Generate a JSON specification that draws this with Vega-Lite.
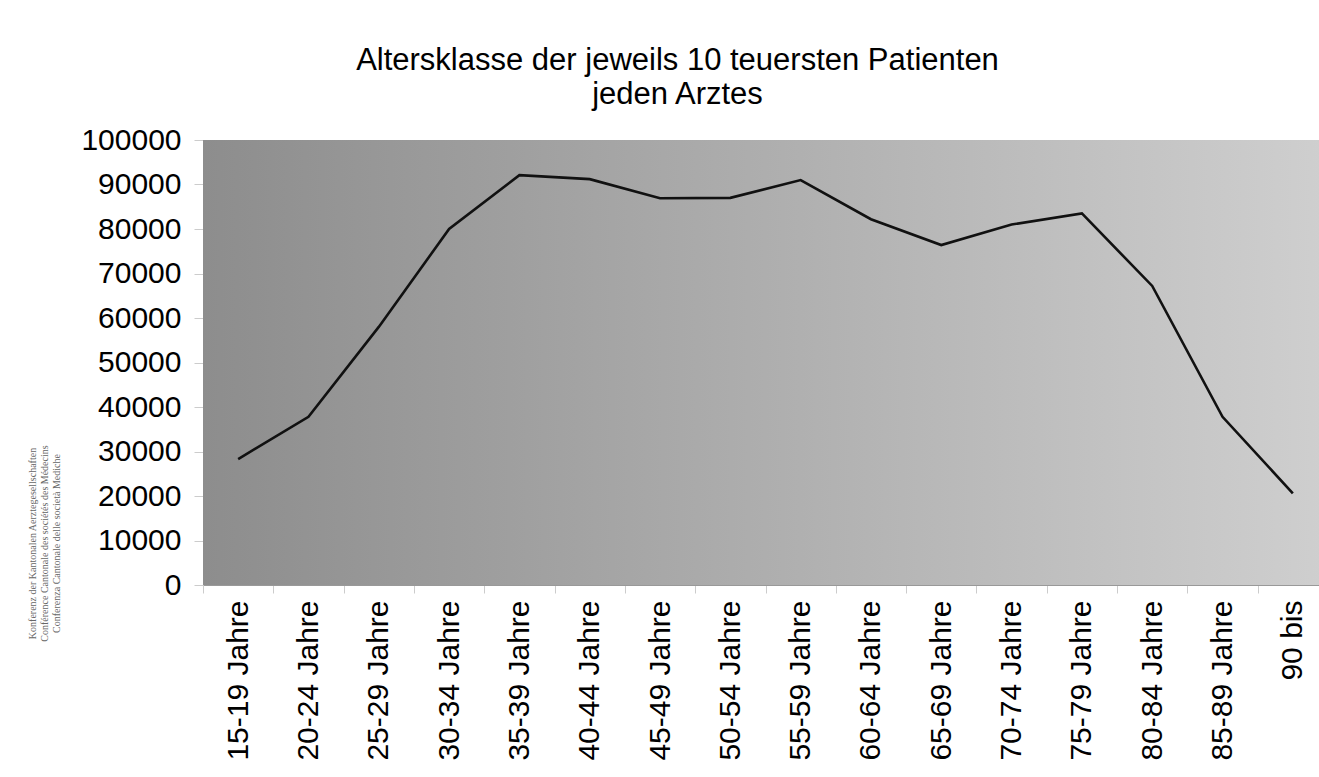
{
  "$schema": "https://vega.github.io/schema/vega-lite/v6.json",
  "autosize": {"type": "none"},
  "padding": {"left": 203, "top": 140, "right": 0, "bottom": 192},
  "width": 1125,
  "height": 445,
  "background": "white",
  "config": {
    "view": {"stroke": null},
    "font": "Liberation Sans"
  },
  "title": {
    "text": ["Altersklasse der jeweils 10 teuersten Patienten", "jeden Arztes"],
    "font": "Liberation Sans",
    "fontSize": 31,
    "fontWeight": "normal",
    "color": "#000000",
    "anchor": "middle",
    "frame": "group",
    "dx": -88,
    "offset": 14,
    "lineHeight": 34
  },
  "data": {
    "values": [
      {"Alter": "15-19 Jahre", "Wert": 28300},
      {"Alter": "20-24 Jahre", "Wert": 37800},
      {"Alter": "25-29 Jahre", "Wert": 58000},
      {"Alter": "30-34 Jahre", "Wert": 80000},
      {"Alter": "35-39 Jahre", "Wert": 92100},
      {"Alter": "40-44 Jahre", "Wert": 91200},
      {"Alter": "45-49 Jahre", "Wert": 86900},
      {"Alter": "50-54 Jahre", "Wert": 87000},
      {"Alter": "55-59 Jahre", "Wert": 91000},
      {"Alter": "60-64 Jahre", "Wert": 82200},
      {"Alter": "65-69 Jahre", "Wert": 76400},
      {"Alter": "70-74 Jahre", "Wert": 81000},
      {"Alter": "75-79 Jahre", "Wert": 83500},
      {"Alter": "80-84 Jahre", "Wert": 67200},
      {"Alter": "85-89 Jahre", "Wert": 37800},
      {"Alter": "90 bis", "Wert": 20600}
    ]
  },
  "layer": [
    {
      "data": {"values": [{"lo": 0, "hi": 100000}]},
      "mark": {
        "type": "rect",
        "color": {
          "gradient": "linear",
          "x1": 0, "y1": 0, "x2": 1, "y2": 0,
          "stops": [
            {"offset": 0, "color": "#8d8d8d"},
            {"offset": 1, "color": "#cfcfcf"}
          ]
        }
      },
      "encoding": {
        "y": {"field": "lo", "type": "quantitative", "scale": {"domain": [0, 100000]}},
        "y2": {"field": "hi"}
      }
    },
    {
      "mark": {"type": "line", "color": "#111111", "strokeWidth": 2.6},
      "encoding": {
        "x": {
          "field": "Alter",
          "type": "nominal",
          "sort": null,
          "scale": {"type": "band", "paddingInner": 0, "paddingOuter": 0},
          "axis": {
            "title": null,
            "labelAngle": -90,
            "labelFontSize": 30,
            "labelColor": "#000000",
            "labelPadding": 7,
            "tickBand": "extent",
            "tickSize": 8,
            "tickColor": "#cccccc",
            "domainColor": "#999999",
            "labelFont": "Liberation Sans"
          }
        },
        "y": {
          "field": "Wert",
          "type": "quantitative",
          "scale": {"domain": [0, 100000], "nice": false},
          "axis": {
            "values": [0, 10000, 20000, 30000, 40000, 50000, 60000, 70000, 80000, 90000, 100000],
            "format": "d",
            "labelFontSize": 30,
            "labelColor": "#000000",
            "labelPadding": 13,
            "tickSize": 9,
            "tickColor": "#cccccc",
            "domain": false,
            "grid": true,
            "gridColor": "#000000",
            "gridOpacity": 0.04,
            "labelFont": "Liberation Sans",
            "title": ["Konferenz der Kantonalen Aerztegesellschaften", "Conférence Cantonale des sociétés des Médecins", "Conferenza Cantonale delle società Mediche"],
            "titleFont": "Liberation Serif",
            "titleFontSize": 10,
            "titleFontWeight": "normal",
            "titleColor": "#666666",
            "titleLineHeight": 12,
            "titleAngle": -90,
            "titleAlign": "center",
            "titleBaseline": "top",
            "titleX": -176,
            "titleY": 403
          }
        }
      }
    }
  ]
}
